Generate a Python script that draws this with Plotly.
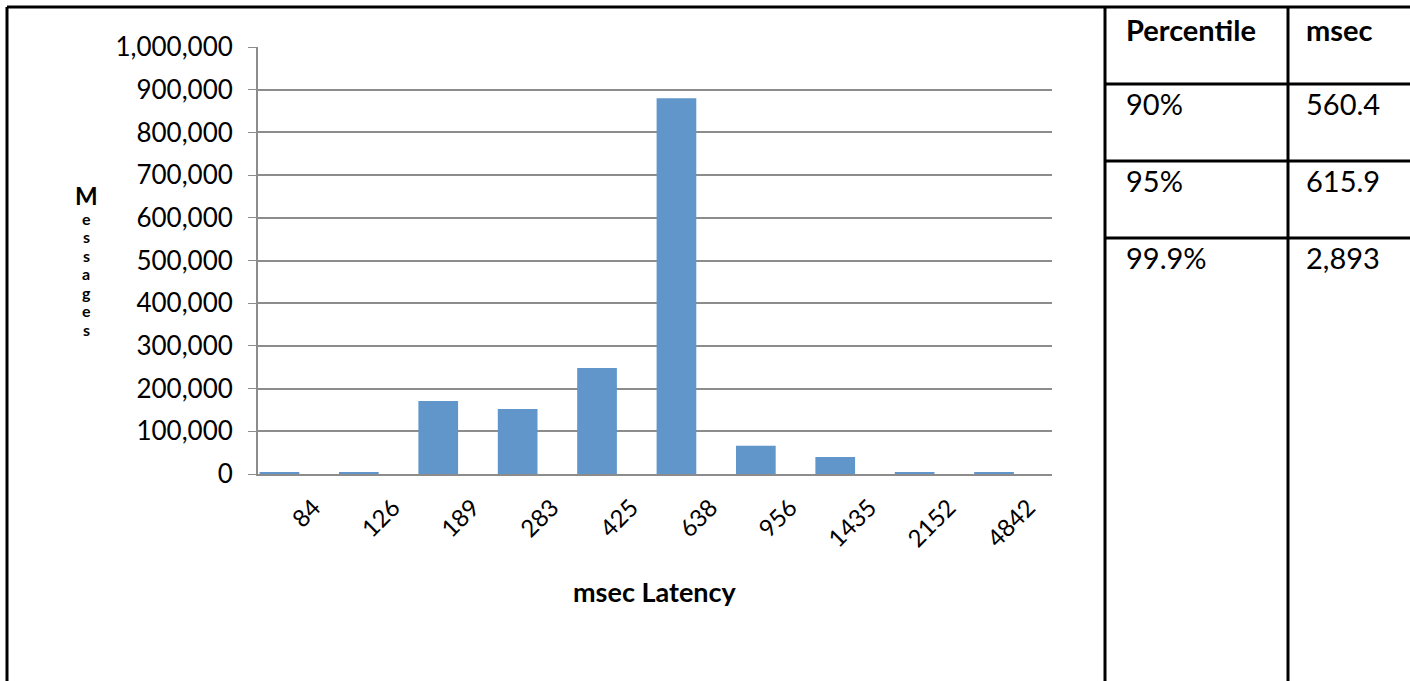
import plotly.graph_objects as go

# ---- data ----
latency_bins = ["84", "126", "189", "283", "425", "638", "956", "1435", "2152", "4842"]
messages = [4000, 4000, 171000, 152000, 248000, 880000, 66000, 40000, 4000, 4000]
y_ticks = [0, 100000, 200000, 300000, 400000, 500000, 600000, 700000, 800000, 900000, 1000000]
table_header = ["Percentile", "msec"]
percentiles = ["90%", "95%", "99.9%"]
msec_values = ["560.4", "615.9", "2,893"]
y_title_letters = list("Messages")

W, H = 1410, 681
L, R, T, B = 258, 1052, 47, 474  # plot area in pixels
FONT = "Lato"


def px(x):
    return (x - L) / (R - L)


def py(y):
    return (B - y) / (B - T)


fig = go.Figure()
fig.add_trace(go.Bar(x=latency_bins, y=messages, width=0.5, offset=-0.48,
                     marker=dict(color="#6096C9", line=dict(width=0))))

shapes = []
black = dict(color="black", width=3)
# outer frame
shapes.append(dict(type="line", xref="paper", yref="paper", x0=px(7), x1=px(W + 5), y0=py(7), y1=py(7), line=black))
shapes.append(dict(type="line", xref="paper", yref="paper", x0=px(7), x1=px(7), y0=py(7), y1=py(H + 5), line=black))
# table verticals
for xv in [1105, 1288]:
    shapes.append(dict(type="line", xref="paper", yref="paper", x0=px(xv), x1=px(xv), y0=py(7), y1=py(H + 5), line=black))
# table horizontals
for yv in [84, 161, 238]:
    shapes.append(dict(type="line", xref="paper", yref="paper", x0=px(1105), x1=px(W + 5), y0=py(yv), y1=py(yv), line=black))

annotations = []
# table header
for txt, xv in zip(table_header, [1124, 1304]):
    annotations.append(dict(text="<b>%s</b>" % txt, xref="paper", yref="paper", x=px(xv), y=py(30),
                            xanchor="left", yanchor="middle", showarrow=False,
                            font=dict(family=FONT, size=29, color="black")))
row_centers = [103, 180, 257]
for p, v, yc in zip(percentiles, msec_values, row_centers):
    annotations.append(dict(text=p, xref="paper", yref="paper", x=px(1124), y=py(yc),
                            xanchor="left", yanchor="middle", showarrow=False,
                            font=dict(family=FONT, size=29, color="black")))
    annotations.append(dict(text=v, xref="paper", yref="paper", x=px(1304), y=py(yc),
                            xanchor="left", yanchor="middle", showarrow=False,
                            font=dict(family=FONT, size=29, color="black")))
# y title letters stacked
letter_y = [195, 218, 236.5, 255, 273.5, 292, 310.5, 329]
for i, (ch, yc) in enumerate(zip(y_title_letters, letter_y)):
    annotations.append(dict(text="<b>%s</b>" % ch, xref="paper", yref="paper", x=px(86), y=py(yc),
                            xanchor="center", yanchor="middle", showarrow=False,
                            font=dict(family=FONT, size=24 if i == 0 else 16, color="black")))
# x title
annotations.append(dict(text="<b>msec Latency</b>", xref="paper", yref="paper", x=px(655), y=py(592),
                        xanchor="center", yanchor="middle", showarrow=False,
                        font=dict(family=FONT, size=27, color="black")))

fig.update_layout(
    width=W, height=H,
    margin=dict(l=L, r=W - R, t=T, b=H - B, pad=0),
    paper_bgcolor="white", plot_bgcolor="white",
    showlegend=False,
    font=dict(family=FONT, size=24, color="black"),
    shapes=shapes, annotations=annotations,
)
fig.update_xaxes(type="category", tickangle=-45, showline=True, linecolor="#8c8c8c", linewidth=2,
                 ticks="", showgrid=False, ticklabelshift=16, ticklabelstandoff=8,
                 tickfont=dict(family=FONT, size=24, color="black"))
fig.update_yaxes(range=[0, 1000000], tickvals=y_ticks, tickformat=",d", showgrid=True, gridcolor="#8c8c8c",
                 gridwidth=1.5, showline=True, linecolor="#8c8c8c", linewidth=2, ticks="outside",
                 ticklen=8, tickcolor="#8c8c8c", zeroline=False, ticklabelstandoff=10,
                 tickfont=dict(family=FONT, size=26, color="black"))

fig.write_html("out.html", config={"displayModeBar": False},
               post_script="document.body.style.margin='0';document.body.style.overflow='hidden';")
